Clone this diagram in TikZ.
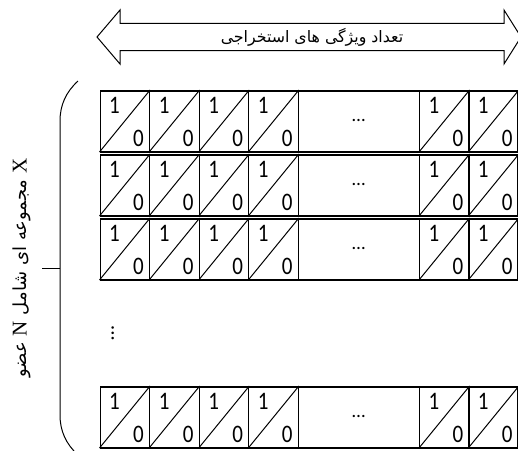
\documentclass[tikz,border=0pt]{standalone}
\usepackage{fontspec}
\setmainfont{Carlito}
\newfontfamily\arabicfont[Script=Arabic]{DejaVu Sans}
\newfontfamily\serifL{Liberation Serif}
\TeXXeTstate=1
\usetikzlibrary{calc}
\begin{document}
\begin{tikzpicture}[x=1pt,y=-1pt,
  rowbox/.style={draw, line width=1.6pt, inner sep=0, minimum width=417.5pt, minimum height=61pt, anchor=north west},
  cellbox/.style={draw, line width=1pt, inner sep=0, minimum width=49.6pt, minimum height=61pt, anchor=north west},
  diag/.style={line width=1pt},
  digit/.style={font=\fontsize{21}{21}\selectfont, inner sep=0},
  arrowshape/.style={draw, line width=1pt},
  bracestyle/.style={draw, line width=1pt}
]
\useasboundingbox (0,0) rectangle (518,450);

% top double arrow
\draw[arrowshape] (97,37) -- (120,10) -- (120,23.3) -- (504,23.3) -- (504,10) -- (521,37)
  -- (504,64) -- (504,50.7) -- (120,50.7) -- (120,64) -- cycle;
\node[inner sep=0] (toplbl) at (312,37) {\arabicfont\fontsize{15.8}{15.8}\selectfont\beginR تعداد ویژگی های استخراجی\endR};

% rows
\foreach \r/\y in {1/90,2/154,3/218,4/386} {
  \foreach \j/\x in {1/99.5,2/149.1,3/198.7,4/248.3,5/419,6/468.3} {
    \node[cellbox] (c\r-\j) at (\x,\y) {};
    \draw[diag] (c\r-\j.south west) -- (c\r-\j.north east);
    \node[digit] (o\r-\j) at ($(c\r-\j.north west)+(15,15.5)$) {\scalebox{1}[1.2]{1}};
    \node[digit] (z\r-\j) at ($(c\r-\j.north west)+(39,48)$) {\scalebox{1}[1.2]{0}};
  }
  \node[inner sep=0, minimum width=121pt, minimum height=61pt, anchor=north west] (m\r) at (297.9,\y) {};
  \node[digit, font=\fontsize{19}{19}\selectfont] (e\r) at (m\r.center) {…};
  \node[rowbox] (r\r) at (99.5,\y) {};
}

% vertical dots
\node[digit, font=\fontsize{21}{21}\selectfont, rotate=90] (vd) at (112.7,333.5) {…};

% brace
\coordinate (btop) at (78,81);
\coordinate (bbot) at (78,455);
\coordinate (bmid) at (60,268);
\coordinate (btick) at (42,268);
\draw[bracestyle] (btop) .. controls (66,92) and (60,105) .. (60,121) -- (60,415)
  .. controls (60,431) and (66,444) .. (bbot);
\draw[bracestyle] (bmid) -- (btick);

% side label
\node[inner sep=0, rotate=90] (sidelbl) at (22,268)
  {\arabicfont\fontsize{18}{18}\selectfont\beginR{\serifL\fontsize{21}{21}\selectfont X} مجموعه ای شامل {\serifL\fontsize{21}{21}\selectfont N} عضو\endR};
\end{tikzpicture}
\end{document}
